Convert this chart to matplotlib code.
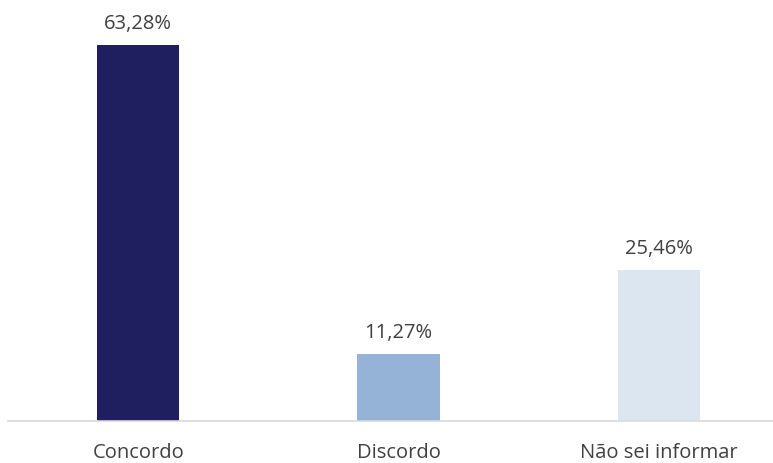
import matplotlib.pyplot as plt

categories = ["Concordo", "Discordo", "Não sei informar"]
values = [63.28, 11.27, 25.46]
labels = ["63,28%", "11,27%", "25,46%"]
colors = ["#1F1F5F", "#95B3D7", "#DCE6F1"]

plt.rcParams['font.family'] = ['Open Sans', 'DejaVu Sans']

W, H = 773, 464
fig = plt.figure(figsize=(W / 100, H / 100), dpi=100)
fig.set_facecolor('white')

# plot area runs off the right edge, as in the original
ax = fig.add_axes([8 / W, 42 / H, 781 / W, 415.8 / H])

x = range(len(categories))
bars = ax.bar(x, values, width=0.315, color=colors)

for rect, lab in zip(bars, labels):
    ax.annotate(lab, (rect.get_x() + rect.get_width() / 2, rect.get_height()),
                xytext=(0, 12), textcoords='offset points',
                ha='center', va='baseline', fontsize=14.5, color='#404040')

ax.set_xlim(-0.5, 2.5)
ax.set_ylim(0, 70)
ax.set_xticks(list(x))
ax.set_xticklabels(categories, fontsize=14.5, color='#404040')
ax.tick_params(axis='x', length=0, pad=15)
ax.set_yticks([])

for s in ['top', 'right', 'left']:
    ax.spines[s].set_visible(False)
ax.spines['bottom'].set_color('#D9D9D9')
ax.spines['bottom'].set_linewidth(1.2)

fig.savefig('out.png', dpi=100, facecolor='white')
